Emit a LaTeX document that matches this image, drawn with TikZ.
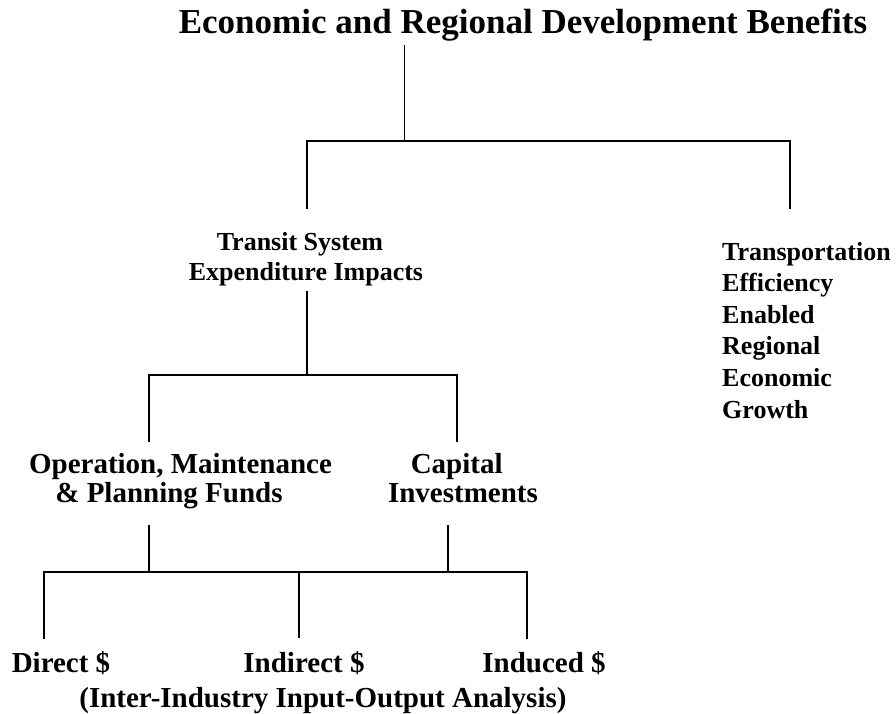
\documentclass[tikz,border=0pt]{standalone}
\usepackage{fontspec}
\setmainfont{Liberation Serif}

\begin{document}
\begin{tikzpicture}[x=1pt,y=-1pt,text centered,
    branch/.style={line width=1.6pt},
    rootstem/.style={line width=1pt},
    midtext/.style={inner sep=0pt,align=center,font=\bfseries\fontsize{26}{30}\selectfont},
    lowtext/.style={inner sep=0pt,align=center,font=\bfseries\fontsize{29}{29}\selectfont}]
\useasboundingbox (0,0) rectangle (896,713);

%% level 0
\node (root) at (523,33) [anchor=base,inner sep=0pt,font=\bfseries\fontsize{35}{42}\selectfont] {Economic and Regional Development Benefits};

%% level 1 (base = last line)
\node (transit) at (306,280) [midtext,anchor=base] {Transit System\hspace*{12pt}\\Expenditure Impacts};
\node (growth) at (722,418) [midtext,anchor=base west,align=left,font=\bfseries\fontsize{26}{31.6}\selectfont] {Transportation\\Efficiency\\Enabled\\Regional\\Economic\\Growth};

%% level 2
\node (opfunds) at (180.5,502) [lowtext,anchor=base] {Operation, Maintenance\\\& Planning Funds\hspace*{23pt}};
\node (capital) at (463,502) [lowtext,anchor=base] {Capital\hspace*{12.6pt}\\Investments};

%% level 3
\node (direct) at (61,672) [lowtext,anchor=base] {Direct \$};
\node (indirect) at (304,672) [lowtext,anchor=base] {Indirect \$};
\node (induced) at (544,672) [lowtext,anchor=base] {Induced \$};
\node (ioanalysis) at (323,707.5) [lowtext,anchor=base] {(Inter-Industry Input-Output Analysis)};

%% junctions
\coordinate (rootdown) at (404,45);
\coordinate (splitA) at (404,140.7);
\coordinate (transitup) at (307,209);
\coordinate (growthup) at (790,209);
\coordinate (transitdown) at (307,291);
\coordinate (splitB) at (307,375);
\coordinate (opup) at (149,442);
\coordinate (capup) at (457,442);
\coordinate (opdown) at (149,525);
\coordinate (capdown) at (448,525);
\coordinate (splitC) at (149,572);
\coordinate (directup) at (44,639);
\coordinate (indirectup) at (299,638);
\coordinate (inducedup) at (527,639);

\draw[rootstem] (rootdown) -- (splitA);
\draw[branch] (transitup) -- (transitup |- splitA) -- (growthup |- splitA) -- (growthup);

\draw[branch] (transitdown) -- (splitB);
\draw[branch] (opup) -- (opup |- splitB) -- (capup |- splitB) -- (capup);

\draw[branch] (opdown) -- (splitC);
\draw[branch] (capdown) -- (capdown |- splitC);
\draw[branch] (directup) -- (directup |- splitC) -- (inducedup |- splitC) -- (inducedup);
\draw[branch] (indirectup) -- (indirectup |- splitC);

\end{tikzpicture}
\end{document}
